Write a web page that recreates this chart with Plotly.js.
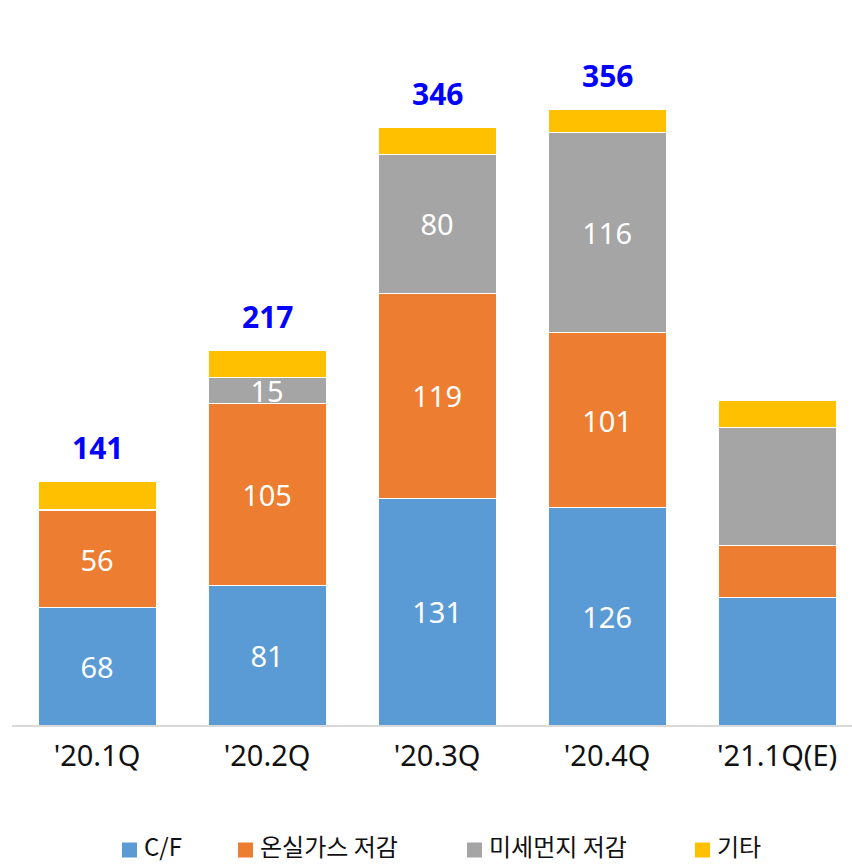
<!DOCTYPE html>
<html><head><meta charset="utf-8">
<script src="https://cdn.plot.ly/plotly-3.0.1.min.js"></script>
<style>body{margin:0;padding:0;background:#fff}#chart{width:852px;height:864px}</style>
</head><body><div id="chart"></div>
<script>
const categories = ["'20.1Q", "'20.2Q", "'20.3Q", "'20.4Q", "'21.1Q(E)"];
const seriesNames = ['C/F', '온실가스 저감', '미세먼지 저감', '기타'];
const seriesColors = ['#5B9BD5', '#ED7D31', '#A5A5A5', '#FFC000'];
const cf = [68, 81, 131, 126, 74];
const ghg = [56, 105, 119, 101, 30];
const dust = [1, 15, 80, 116, 68];
const etc = [16, 16, 16, 13, 16];
const totals = [141, 217, 346, 356, null];
const showLabels = [true, true, true, true, false];

const FONT = "'Noto Sans', 'Noto Sans CJK KR', sans-serif";
const KFONT = "'Noto Sans CJK KR', 'Noto Sans', sans-serif";
function labels(arr, minShow) {
  return arr.map((v, i) => (showLabels[i] && v >= minShow) ? String(v) : '');
}
function barTrace(k, vals, minShow) {
  return {
    type: 'bar', name: seriesNames[k], x: categories, y: vals,
    marker: {color: seriesColors[k], line: {color: '#ffffff', width: 1}},
    text: minShow === null ? vals.map(() => '') : labels(vals, minShow),
    textposition: 'inside', insidetextanchor: 'middle',
    textangle: 0, constraintext: 'none',
    textfont: {color: '#ffffff', size: 29, family: FONT},
    hoverinfo: 'skip', cliponaxis: false
  };
}
const data = [
  barTrace(0, cf, 10),
  barTrace(1, ghg, 10),
  barTrace(2, dust, 10),
  barTrace(3, etc, null)
];
const annotations = categories.map((c, i) => totals[i] === null ? null : ({
  x: c, y: totals[i], text: String(totals[i]), showarrow: false,
  yanchor: 'middle', yshift: 34,
  font: {color: '#0000FF', size: 30, family: FONT, weight: 'bold'}
})).filter(a => a);

// custom legend (layout geometry in pixels)
const M = {l: 12, r: 0, t: 20, b: 139}, W = 852, H = 864;
const pw = W - M.l - M.r, ph = H - M.t - M.b;
const px = x => (x - M.l) / pw;
const py = y => (H - M.b - y) / ph;
const legX = [122, 238, 467, 695];
const legY = 850, sq = 15;
const shapes = [];
seriesNames.forEach((n, k) => {
  shapes.push({type: 'rect', xref: 'paper', yref: 'paper',
    x0: px(legX[k]), x1: px(legX[k] + sq), y0: py(legY + sq / 2), y1: py(legY - sq / 2),
    fillcolor: seriesColors[k], line: {width: 0}});
  annotations.push({xref: 'paper', yref: 'paper', x: px(legX[k] + sq + 5), y: py(legY - 4),
    xanchor: 'left', yanchor: 'middle', showarrow: false, text: n,
    font: {size: 24, family: KFONT, color: '#111'}});
});

const layout = {
  width: W, height: H,
  margin: M,
  barmode: 'stack', bargap: 0.306,
  showlegend: false,
  xaxis: {type: 'category', range: [-0.5, 4.44], showline: true, linecolor: '#D9D9D9', linewidth: 2,
    ticks: '', ticklabelstandoff: 4, tickfont: {size: 29, family: FONT, color: '#111'}, fixedrange: true},
  yaxis: {range: [0, 408], showgrid: false, zeroline: false, showticklabels: false, showline: false},
  annotations: annotations,
  shapes: shapes,
  plot_bgcolor: '#fff', paper_bgcolor: '#fff'
};
Plotly.newPlot('chart', data, layout, {displayModeBar: false, staticPlot: true});
</script></body></html>
